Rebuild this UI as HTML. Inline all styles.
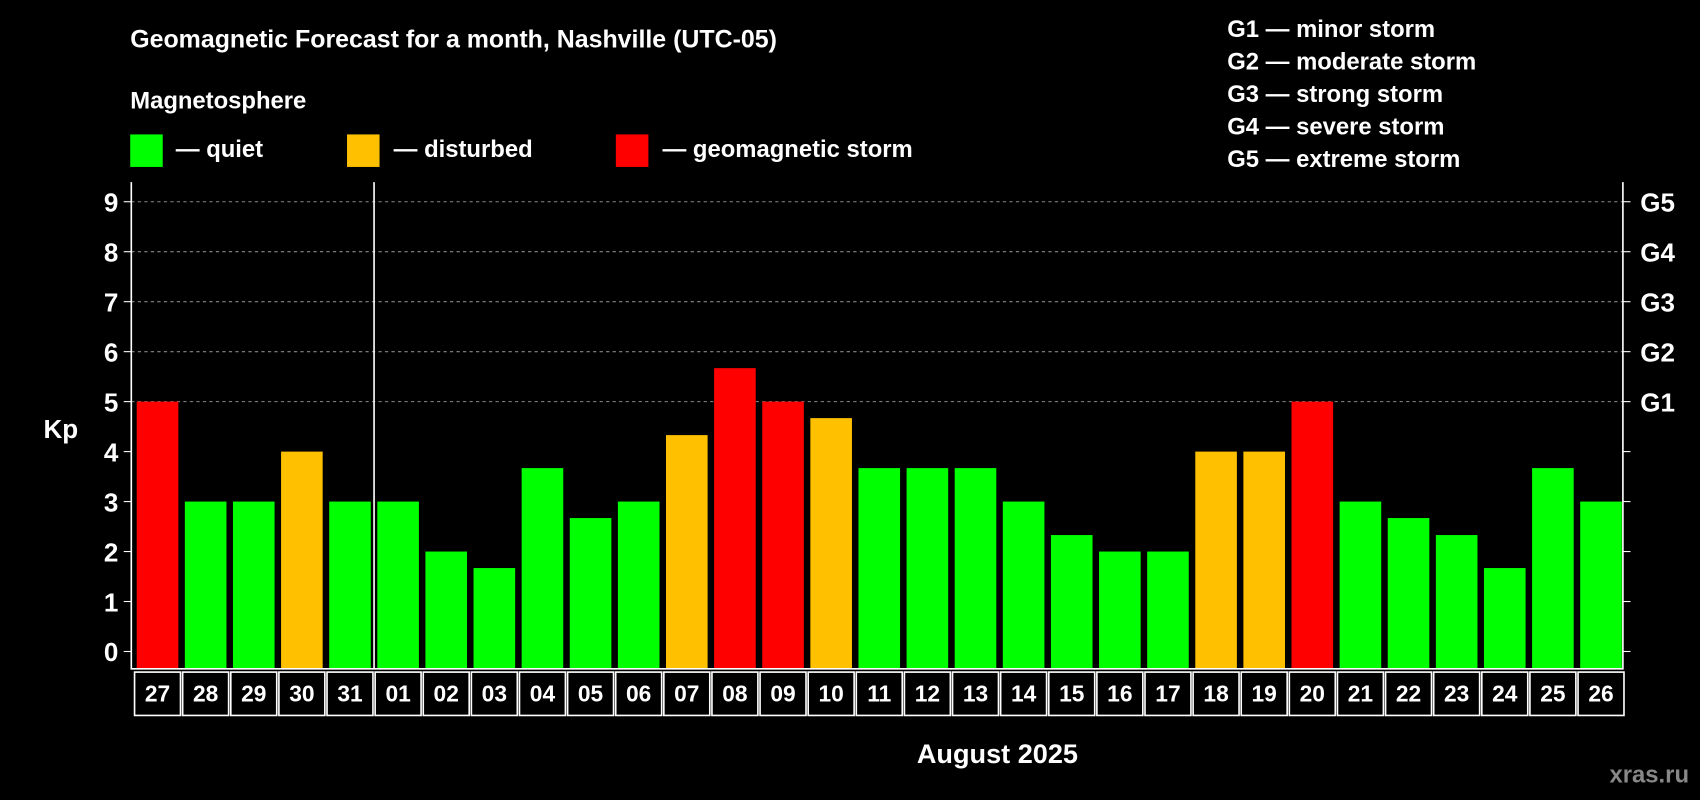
<!DOCTYPE html>
<html><head><meta charset="utf-8"><style>
html,body{margin:0;padding:0;background:#000;}
svg{display:block;font-family:"Liberation Sans",Arial,sans-serif;font-weight:bold;}
</style></head><body>
<svg id="chart" width="1700" height="800" viewBox="0 0 1568 738" xmlns="http://www.w3.org/2000/svg">
<rect x="0" y="0" width="1568" height="738" fill="#000"/>
<text x="120" y="44" fill="#fff" font-size="23">Geomagnetic Forecast for a month, Nashville (UTC-05)</text>
<text x="120" y="100" fill="#fff" font-size="22">Magnetosphere</text>
<g><rect x="120" y="124" width="30" height="30" fill="#00ff00"/><text x="162" y="145" fill="#fff" font-size="22">— quiet</text></g>
<g><rect x="320" y="124" width="30" height="30" fill="#ffc000"/><text x="363" y="145" fill="#fff" font-size="22">— disturbed</text></g>
<g><rect x="568" y="124" width="30" height="30" fill="#ff0000"/><text x="611" y="145" fill="#fff" font-size="22">— geomagnetic storm</text></g>
<g fill="#fff" font-size="22">
<text x="1132" y="34">G1 — minor storm</text>
<text x="1132" y="64">G2 — moderate storm</text>
<text x="1132" y="94">G3 — strong storm</text>
<text x="1132" y="124">G4 — severe storm</text>
<text x="1132" y="154">G5 — extreme storm</text>
</g>
<text x="40" y="404" fill="#fff" font-size="24">Kp</text>
<text x="920" y="704" fill="#fff" font-size="25" text-anchor="middle">August 2025</text>
<text x="1558" y="722" fill="#888" font-size="22" text-anchor="end">xras.ru</text>
<g id="grid"></g><g id="bars"></g><g id="axes"></g>
</svg>
<script>
const labels=["27","28","29","30","31","01","02","03","04","05","06","07","08","09","10","11","12","13","14","15","16","17","18","19","20","21","22","23","24","25","26"];
const kp=[5,3,3,4,3,3,2,1.67,3.67,2.67,3,4.33,5.67,5,4.67,3.67,3.67,3.67,3,2.33,2,2,4,4,5,3,2.67,2.33,1.67,3.67,3];
const yTicks=[0,1,2,3,4,5,6,7,8,9];
const gLabels=["","","","","","G1","G2","G3","G4","G5"];
const NS="http://www.w3.org/2000/svg";
const L=121,R=1497,T=168,B=617;
const slot=(R-L)/labels.length;
const y=v=>601-v*46.1;
const x=i=>L+i*slot;
function mk(tag,attrs,parent){const e=document.createElementNS(NS,tag);for(const k in attrs)e.setAttribute(k,attrs[k]);document.getElementById(parent).appendChild(e);return e;}
const col=v=>v>=5?"#ff0000":(v>=4?"#ffc000":"#00ff00");
yTicks.forEach((t,i)=>{
 if(t>0&&t>=5){const g=mk("line",{x1:L,x2:R,y1:y(t),y2:y(t),stroke:"#888","stroke-dasharray":"3,3","stroke-width":1},"grid");
 
 }
 const tl=mk("text",{x:L-12,y:y(t)+9,fill:"#fff","font-size":24,"text-anchor":"end"},"axes");tl.textContent=t;
 
 
 mk("line",{x1:L-7,x2:L,y1:y(t),y2:y(t),stroke:"#fff"},"axes");
 mk("line",{x1:R,x2:R+7,y1:y(t),y2:y(t),stroke:"#fff"},"axes");
 if(gLabels[i]){const gl=mk("text",{x:R+16,y:y(t)+9,fill:"#fff","font-size":24},"axes");gl.textContent=gLabels[i];
 
 }
});
kp.forEach((v,i)=>{
 const b=mk("rect",{x:x(i)+5,y:y(v),width:slot-6,height:y(0)+16-y(v)+0,fill:col(v)},"bars");
 b.setAttribute("height",B-y(v));
 
 
 const bx=mk("rect",{x:x(i)+3,y:620,width:slot-2,height:40,fill:"none",stroke:"#fff","stroke-width":1.5},"axes");
 
 
 const t=mk("text",{x:x(i)+slot/2+2,y:647,fill:"#fff","font-size":21,"text-anchor":"middle"},"axes");t.textContent=labels[i];
 
 
});
const frame=mk("path",{d:`M${L},${T}V${B}H${R}V${T}`,fill:"none",stroke:"#fff","stroke-width":1.5},"axes");


const sep=mk("line",{x1:x(5)+2,x2:x(5)+2,y1:T,y2:B,stroke:"#fff","stroke-width":1.5},"axes");


</script>
</body></html>
